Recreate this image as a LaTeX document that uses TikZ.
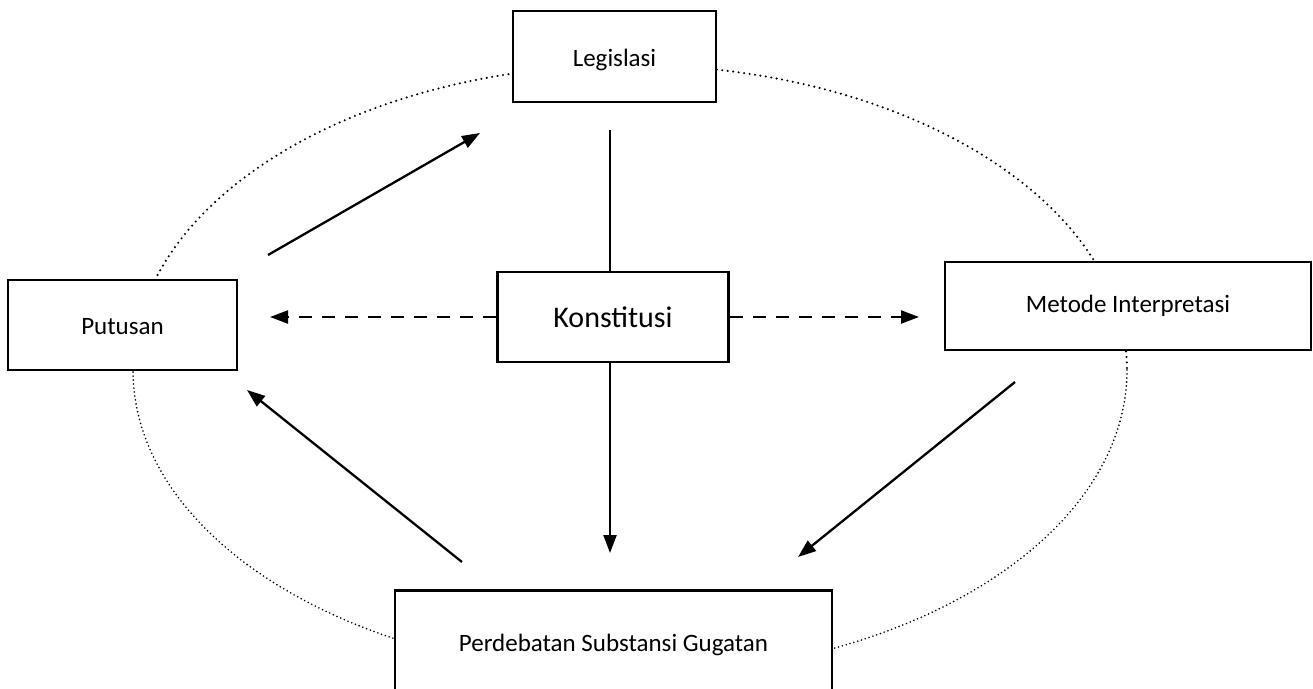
\documentclass[tikz,border=0pt]{standalone}
\usepackage{fontspec}
\setmainfont{Carlito}
\usetikzlibrary{arrows.meta}
\tikzset{
  box/.style={draw, line width=2.5pt, fill=white, inner sep=0pt, font=\fontsize{25}{30}\selectfont},
  conn/.style={line width=2.3pt},
  arr/.style={conn, -{Triangle[length=18pt,width=13pt]}},
  dasharr/.style={arr, dash pattern=on 13pt off 10pt},
  ellup/.style={line width=2.3pt, line cap=round, dash pattern=on 0pt off 5.5pt},
  elldown/.style={line width=1.8pt, line cap=round, dash pattern=on 0pt off 4pt}
}
\begin{document}
\begin{tikzpicture}[x=1pt,y=-1pt]
\clip (0,0) rectangle (1313,688);
\fill[white] (0,0) rectangle (1313,688);
% dotted ellipse
\coordinate (ec) at (630,370);
\draw[ellup] (ec) ++(180:497 and 305) arc[start angle=180, end angle=360, x radius=497, y radius=305];
\draw[elldown] (ec) ++(0:497 and 305) arc[start angle=0, end angle=180, x radius=497, y radius=305];
% boxes
\node[box, minimum width=203pt, minimum height=91pt, text height=20pt, text depth=0pt] (leg) at (614.5,56.5) {Legislasi};
\node[box, minimum width=229pt, minimum height=90pt, text height=18pt, text depth=0pt] (put) at (122.5,325) {Putusan};
\node[box, minimum width=231pt, minimum height=90pt, font=\fontsize{30}{36}\selectfont] (kon) at (613,317) {Konstitusi};
\node[box, minimum width=366pt, minimum height=88pt] (met) at (1128,306) {Metode Interpretasi};
\node[box, minimum width=437pt, text height=61pt, text depth=50pt, anchor=north] (pd) at (613.5,589) {Perdebatan Substansi Gugatan};
% free ends
\coordinate (putA) at (268,255);
\coordinate (legA) at (480,133);
\coordinate (legB) at (610,130);
\coordinate (konT) at (610,272);
\coordinate (konB) at (610,362);
\coordinate (pdA) at (610,553);
\coordinate (pdB) at (462,562);
\coordinate (putB) at (247,390);
\coordinate (metA) at (1015,382);
\coordinate (pdC) at (798,557);
\coordinate (putC) at (270,317);
\coordinate (metC) at (919,317);
% connectors
\draw[arr] (putA) -- (legA);
\draw[conn] (legB) -- (konT);
\draw[arr] (konB) -- (pdA);
\draw[arr] (pdB) -- (putB);
\draw[arr] (metA) -- (pdC);
\draw[dasharr] (kon.west) -- (putC);
\draw[dasharr] (kon.east) -- (metC);
\end{tikzpicture}
\end{document}
